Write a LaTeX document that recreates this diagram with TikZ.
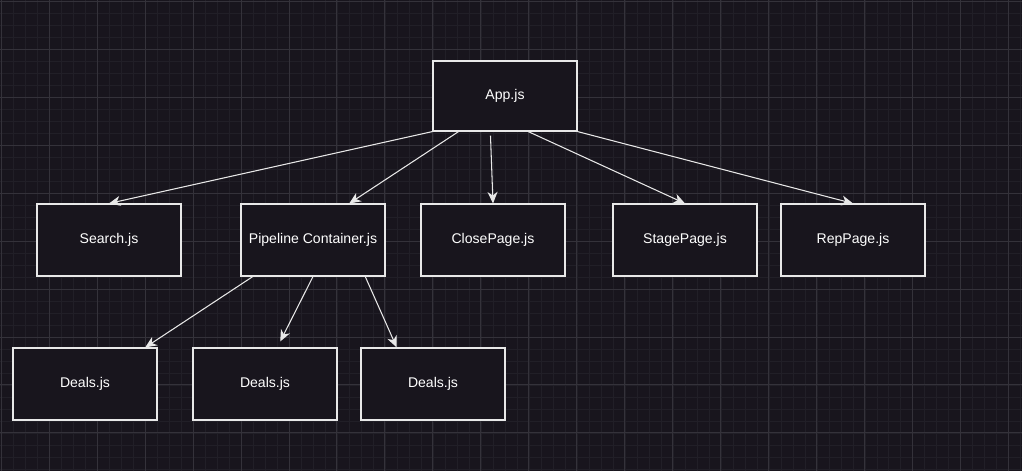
\documentclass[tikz,border=0pt]{standalone}
\usepackage{fontspec}
\setmainfont{Liberation Sans}
\usepackage{tikz}
\usetikzlibrary{arrows.meta}
\usetikzlibrary{calc}
\definecolor{bg}{RGB}{24,21,29}
\definecolor{minorline}{RGB}{33,31,39}
\definecolor{majorline}{RGB}{52,50,58}
\definecolor{boxline}{RGB}{232,232,232}
\tikzset{my box/.style={
  draw=boxline,
  fill=bg,
  line width=0.65pt,
  minimum width=2.88cm,
  minimum height=1.44cm,
  text=white,
  font=\fontsize{8}{10}\selectfont
  }
}
\tikzset{my arrow/.style={
  boxline,
  line width=0.6pt,
  -{Stealth[length=2.3mm,width=2mm,inset=0.7mm]}
  }
}

\begin{document}
\begin{tikzpicture}[x=0.02cm,y=-0.02cm]
    \fill[bg] (0,0) rectangle (1022,471);
    \useasboundingbox (0,0) rectangle (1022,471);
    \begin{scope}[shift={(1,1)}]
        \draw[minorline,line width=0.4pt] (-1,-1) grid[step=0.24cm] (1021,470);
        \draw[majorline,line width=0.5pt] (-1,-1) grid[step=0.96cm] (1021,470);
    \end{scope}

    \node[my box,minimum height=1.4cm] (A) at (505,96) {App.js};

    \foreach \x/\i [count=\n] in {109/Search.js,313/Pipeline Container.js,493/ClosePage.js,685/StagePage.js,853/RepPage.js}
        \node[my box] (P\n) at (\x,240) {\i};

    \foreach \x/\i [count=\n] in {85/Deals.js,265/Deals.js,433/Deals.js}
        \node[my box] (D\n) at (\x,384) {\i};

    \draw[my arrow] (A.south west) to (P1.north);
    \draw[my arrow] ($(A.south west)!0.18!(A.south east)$) to ($(P2.north)!0.5!(P2.north east)$);
    \draw[my arrow] ($(A.south west)!0.4!(A.south east)+(0,4)$) to (P3.north);
    \draw[my arrow] ($(A.south west)!0.66!(A.south east)$) to (P4.north);
    \draw[my arrow] (A.south east) to (P5.north);

    \coordinate (E2) at ($(D2.north)!0.21!(D2.north east)+(0,-6)$);
    \draw[my arrow] ($(P2.south west)!0.085!(P2.south east)$) to ($(D1.north)!0.83!(D1.north east)$);
    \draw[my arrow] (P2.south) to (E2);
    \draw[my arrow] ($(P2.south west)!0.86!(P2.south east)$) to ($(D3.north west)!0.5!(D3.north)$);
\end{tikzpicture}
\end{document}
